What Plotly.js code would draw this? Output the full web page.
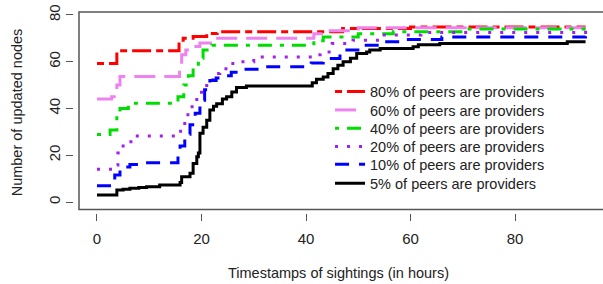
<!DOCTYPE html>
<html>
<head>
<meta charset="utf-8">
<script src="https://cdn.plot.ly/plotly-3.0.1.min.js"></script>
<style>html,body{margin:0;padding:0;background:#fff;}#chart{width:603px;height:284px;}</style>
</head>
<body>
<div id="chart"></div>
<script>
// ---- data ----
const seriesNames = [
  "80% of peers are providers",
  "60% of peers are providers",
  "40% of peers are providers",
  "20% of peers are providers",
  "10% of peers are providers",
  "5% of peers are providers"
];

const x80 = [0, 3.8, 15.7, 16.5, 18.4, 21, 23, 47, 60, 93.5];
const y80 = [59.2, 64.7, 69.2, 70, 70.8, 72.1, 72.8, 74.2, 74.8, 74.8];

const x60 = [0, 2.8, 3.8, 4.4, 15.8, 16.2, 17, 18.4, 19.7, 22, 41.5, 43, 50, 93.5];
const y60 = [44, 45, 50, 53.7, 59, 63, 65, 66.5, 68, 70, 72, 73.2, 74.5, 74.5];

const x40 = [0, 2.5, 3.8, 4.4, 6, 15.5, 16.6, 17.5, 18.4, 19.4, 20.3, 22, 41.5, 43.3, 50, 56.7, 70, 93.5];
const y40 = [28.9, 30.8, 38, 40, 42.2, 45, 50, 54, 57.8, 61.5, 65, 67, 69, 70.6, 72, 72.8, 74, 74];

const x20 = [0, 3.6, 4, 4.7, 5.7, 7.3, 16, 16.8, 17.4, 18.2, 19.1, 20, 21, 22.2, 23.5, 26, 30, 41.5, 42.7, 45, 49, 54, 62, 93.5];
const y20 = [14, 15.8, 21, 24, 25.8, 28.2, 31, 35, 38, 42, 45, 49, 52, 55, 57, 60, 62, 63, 64.2, 67.8, 69.2, 71.4, 72.5, 73.2];

const x10 = [0, 3.4, 4.4, 5.4, 6.3, 8.8, 15.5, 15.9, 16.8, 17.8, 18.8, 19.7, 20.6, 21.6, 22.8, 24.1, 25.7, 27.4, 31.2, 41, 43.3, 46.5, 50.3, 54.2, 58, 66, 93.5];
const y10 = [7, 11.5, 13.5, 15, 16, 16.8, 20, 24, 29, 33, 38, 43.5, 48, 52, 53, 54, 55.5, 56.8, 57.8, 59.5, 61.4, 65, 67, 68.5, 69.5, 70.6, 71];

const x5 = [0, 3.8, 5, 6.3, 8, 9.5, 12, 15.9, 16.2, 17.8, 18.4, 19.1, 19.4, 19.7, 20.3, 21, 21.6, 22.3, 22.9, 24, 24.8, 25.8, 26.7, 28.6, 41.2, 42, 43.3, 44.2, 45.2, 46.1, 47.1, 48.5, 49.7, 51.6, 52.2, 54.2, 60.5, 61.5, 65.6, 90, 93.5];
const y5 = [3, 5.1, 5.5, 5.9, 6.2, 6.5, 7.3, 8.3, 10.8, 12.3, 16.5, 19.4, 21, 29.4, 32, 35, 39.3, 41, 42, 44, 45, 47, 49, 49.6, 51, 52.5, 53.5, 55, 57, 58.5, 60, 61.5, 63.5, 64.2, 65, 65.7, 66.4, 67.3, 67.8, 68.5, 68.5];

const xTicks = [0, 20, 40, 60, 80];
const yTicks = [0, 20, 40, 60, 80];

// ---- styles ----
const colors = ["#ff0000", "#ee82ee", "#00dd00", "#a020f0", "#0000ff", "#000000"];
const dashes = ["7px,5px,19px,5px", "21px,9px", "4px,8px,14px,8px", "3px,9px", "14px,10px", "solid"];
const xs = [x80, x60, x40, x20, x10, x5];
const ys = [y80, y60, y40, y20, y10, y5];
// one legend per entry so the row spacing can match the reference
const legendRowY = [0.6035, 0.5124, 0.4214, 0.3299, 0.2423, 0.1478];
const legendIds = ["legend", "legend2", "legend3", "legend4", "legend5", "legend6"];

const traces = seriesNames.map((name, i) => ({
  type: "scatter",
  mode: "lines",
  name: name,
  x: xs[i],
  y: ys[i],
  legend: legendIds[i],
  line: {shape: "hv", color: colors[i], width: 3, dash: dashes[i]},
  hoverinfo: "skip"
}));

const font = {family: "Liberation Sans, Arial, Helvetica, sans-serif", color: "#222", size: 15};

const layout = {
  width: 603,
  height: 284,
  margin: {l: 74, r: 0, t: 12, b: 71, pad: 0},
  paper_bgcolor: "#fff",
  plot_bgcolor: "#fff",
  font: font,
  showlegend: true,
  xaxis: {
    range: [-4.40, 96.84],
    tickvals: xTicks,
    ticktext: xTicks.map(String),
    ticks: "outside", ticklen: 7, tickwidth: 1, tickcolor: "#555",
    ticklabelstandoff: 5,
    showline: false, zeroline: false, showgrid: false,
    tickfont: {size: 15, color: "#222"},
    title: {text: "Timestamps of sightings (in hours)", font: {size: 14.5, color: "#222"}, standoff: 21},
    fixedrange: true
  },
  yaxis: {
    range: [-4.705, 81.26],
    tickvals: yTicks,
    ticktext: yTicks.map(String),
    tickangle: -90,
    ticks: "outside", ticklen: 7, tickwidth: 1, tickcolor: "#555",
    showline: false, zeroline: false, showgrid: false,
    tickfont: {size: 15, color: "#222"},
    title: {text: "Number of updated nodes", font: {size: 14.5, color: "#222"}, standoff: 19},
    fixedrange: true
  },
  shapes: [{
    type: "rect", xref: "paper", yref: "paper",
    x0: 0.00945, x1: 1.1, y0: 0.0174, y1: 1.0,
    line: {color: "#555", width: 1.5}, fillcolor: "rgba(0,0,0,0)", layer: "below"
  }]
};

legendIds.forEach((id, i) => {
  layout[id] = {
    x: 0.484, y: legendRowY[i], xanchor: "left", yanchor: "middle",
    bgcolor: "rgba(0,0,0,0)", borderwidth: 0,
    font: {family: font.family, color: "#222", size: 14.5}
  };
});

Plotly.newPlot("chart", traces, layout, {displayModeBar: false, staticPlot: true});
</script>
</body>
</html>
